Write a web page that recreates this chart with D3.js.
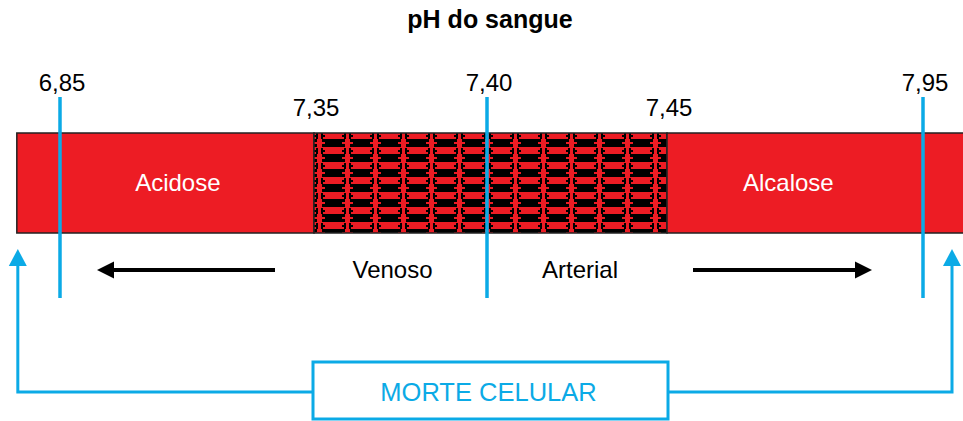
<!DOCTYPE html>
<html><head><meta charset="utf-8">
<script src="https://cdn.jsdelivr.net/npm/d3@7/dist/d3.min.js"></script>
<style>body{margin:0;background:#fff}svg{display:block;font-family:"Liberation Sans",Arial,sans-serif}</style>
</head><body><svg id="c" width="963" height="421"></svg>
<script>
// Data
const title = "pH do sangue";
const phTicks = [6.85, 7.35, 7.40, 7.45, 7.95];
const tickLabels = ["6,85", "7,35", "7,40", "7,45", "7,95"];
const tickRow = [0, 1, 0, 1, 0];          // 0 = upper label row, 1 = lower
const blueLines = [6.85, 7.40, 7.95];
const zones = [
  {name: "Acidose", from: 6.765, to: 7.35, type: "solid", labelAt: 7.082},
  {name: "", from: 7.35, to: 7.45, type: "pattern", labelAt: 7.40},
  {name: "Alcalose", from: 7.45, to: 8.03, type: "solid", labelAt: 7.687}
];
const flowLabels = [{text: "Venoso", at: 7.375, dir: -1}, {text: "Arterial", at: 7.425, dir: 1}];
const deathLabel = "MORTE CELULAR";

const RED = "#ED1C24", BLUE = "#0BAAE6";
const svg = d3.select("#c");
// schematic (piecewise) scale
const x = d3.scaleLinear().domain(phTicks).range([60, 314, 487, 667, 923]);

const defs = svg.append("defs");
const pat = defs.append("pattern").attr("id", "p").attr("patternUnits", "userSpaceOnUse")
  .attr("width", 28).attr("height", 15).attr("x", 314).attr("y", 133);
const pr = (a, b, w, h, f) => pat.append("rect").attr("x", a).attr("y", b).attr("width", w).attr("height", h).attr("fill", f);
pr(0, 0, 28, 15, RED);
pr(11, 6, 17, 8, "#000");          // wide black block
pr(0, 6, 3, 3, "#000"); pr(8, 6, 3, 3, "#000");
pr(0, 11, 3, 3, "#000"); pr(8, 11, 3, 3, "#000");
pr(2, 0, 2, 6, "#000"); pr(7, 0, 2, 6, "#000");   // stems in red band
pr(0, 2, 2, 2, "#000"); pr(9, 2, 2, 2, "#000");

const barTop = 133, barH = 100;
svg.append("text").attr("x", 490).attr("y", 28).attr("text-anchor", "middle")
  .attr("font-weight", "bold").attr("font-size", 25).text(title);

svg.selectAll(".zone").data(zones).join("rect")
  .attr("x", d => x(d.from)).attr("y", barTop)
  .attr("width", d => x(d.to) - x(d.from)).attr("height", barH)
  .attr("fill", d => d.type === "pattern" ? "url(#p)" : RED)
  .attr("stroke", "#222").attr("stroke-width", 1.5);

svg.selectAll(".zl").data(zones.filter(d => d.name)).join("text")
  .attr("x", d => x(d.labelAt))
  .attr("y", barTop + barH / 2 + 8).attr("text-anchor", "middle")
  .attr("fill", "#fff").attr("font-size", 24).text(d => d.name);

svg.selectAll(".tl").data(phTicks).join("text")
  .attr("x", (d, i) => x(d) + 2).attr("y", (d, i) => tickRow[i] ? 116 : 91)
  .attr("text-anchor", "middle").attr("font-size", 24).text((d, i) => tickLabels[i]);

svg.selectAll(".bl").data(blueLines).join("line")
  .attr("x1", d => x(d)).attr("x2", d => x(d)).attr("y1", 97).attr("y2", 298)
  .attr("stroke", BLUE).attr("stroke-width", 3.5);

// flow labels & arrows
svg.selectAll(".fl").data(flowLabels).join("text")
  .attr("x", d => x(d.at) + (d.dir < 0 ? -8 : 3)).attr("y", 278)
  .attr("text-anchor", "middle").attr("font-size", 24).text(d => d.text);

flowLabels.forEach(d => {
  const x0 = d.dir < 0 ? 275 : 693, x1 = d.dir < 0 ? 97 : 872;
  const y = 270;
  svg.append("line").attr("x1", x0).attr("x2", x1 - d.dir * 14).attr("y1", y).attr("y2", y)
    .attr("stroke", "#000").attr("stroke-width", 4);
  svg.append("path").attr("d", `M${x1},${y} L${x1 - d.dir * 17},${y - 8.5} L${x1 - d.dir * 17},${y + 8.5} Z`).attr("fill", "#000");
});

// morte celular box and connectors
const bx0 = x(7.35) - 1, bx1 = x(7.45) + 1, by = 362;
svg.append("rect").attr("x", bx0).attr("y", by).attr("width", bx1 - bx0).attr("height", 57)
  .attr("fill", "#fff").attr("stroke", BLUE).attr("stroke-width", 3);
svg.append("text").attr("x", (bx0 + bx1) / 2 - 2).attr("y", 401).attr("text-anchor", "middle")
  .attr("fill", BLUE).attr("font-size", 25.5).text(deathLabel);

const lx = x(6.765) + 1, rx = 952, cy = 392;
svg.append("path").attr("d", `M${bx0},${cy} H${lx} V264`).attr("fill", "none").attr("stroke", BLUE).attr("stroke-width", 3);
svg.append("path").attr("d", `M${bx1},${cy} H${rx} V264`).attr("fill", "none").attr("stroke", BLUE).attr("stroke-width", 3);
[lx, rx].forEach(cx => svg.append("path").attr("d", `M${cx},249 L${cx - 9},266 L${cx + 9},266 Z`).attr("fill", BLUE));
</script></body></html>
